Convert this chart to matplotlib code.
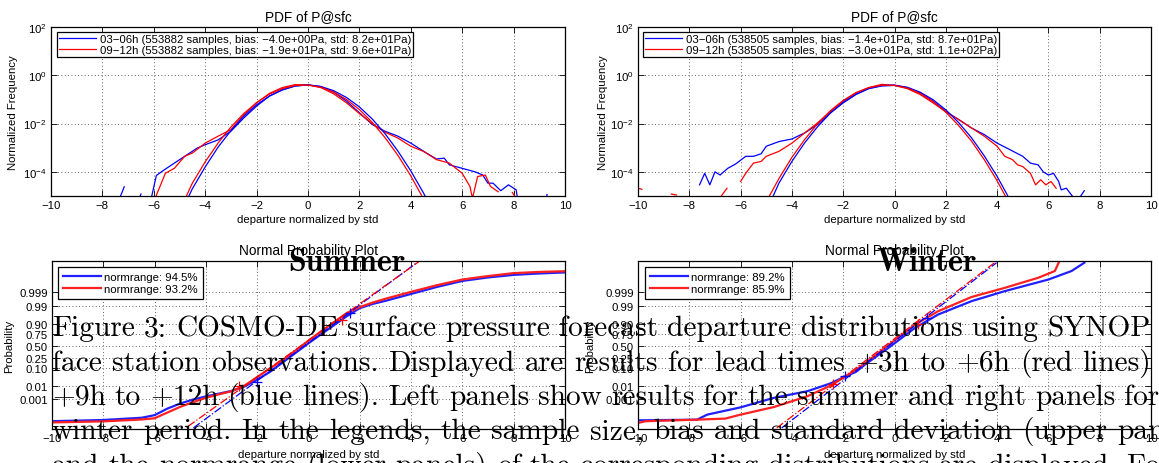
import numpy as np
import matplotlib
matplotlib.use("Agg")
import matplotlib.pyplot as plt
from matplotlib.ticker import NullLocator
from statistics import NormalDist

plt.rcParams["font.family"] = "Liberation Sans"
plt.rcParams["font.size"] = 8.2
plt.rcParams["mathtext.default"] = "regular"

W, H = 1159, 464

# ---------------- PDF data (summer) ----------------
sum_blue_x = [-7.33, -7.15, np.nan, -6.55, -6.5, np.nan,
              -6.1, -5.9, -5.6, -5.2, -4.8, -4.5, -4.3, -4.0, -3.5, -3.0, -2.5, -2.0, -1.5, -1.0, -0.5,
              0.0, 0.5, 1.0, 1.5, 2.0, 2.5, 3.0, 3.5, 4.0, 4.5, 5.0, 5.3, 5.5, 6.0, 6.5, 6.8, 7.0, 7.2,
              7.5, 7.8, 8.1, 8.15, np.nan, 9.28, 9.3]
sum_blue_y = [8e-6, 2.4e-5, np.nan, 9e-6, 1.2e-5, np.nan,
              8e-6, 7.1e-5, 1.2e-4, 2.3e-4, 4.4e-4, 7.1e-4, 9.8e-4, 1.33e-3, 2.1e-3, 4.8e-3, 0.017, 0.053,
              0.138, 0.245, 0.36, 0.40, 0.34, 0.20, 0.085, 0.028, 9.1e-3, 4.8e-3, 3.0e-3, 1.55e-3, 7.1e-4,
              3.4e-4, 3.7e-4, 1.95e-4, 1.4e-4, 1.0e-4, 7.4e-5, 3.4e-5, 3.4e-5, 1.66e-5, 2.9e-5, 1.8e-5,
              8e-6, np.nan, 9e-6, 1.15e-5]
sum_red_x = [-5.95, -5.55, -5.2, -4.8, -4.5, -4.0, -3.5, -3.0, -2.5, -2.0, -1.5, -1.0, -0.5, 0.0, 0.5,
             1.0, 1.5, 2.0, 2.5, 3.0, 3.5, 4.0, 4.5, 5.0, 5.5, 6.0, 6.3, 6.4, 6.6, 6.9, 7.1, 7.4,
             np.nan, 7.95, 8.1]
sum_red_y = [8e-6, 8.7e-5, 1.4e-4, 4.4e-4, 6e-4, 1.55e-3, 3.0e-3, 5.6e-3, 0.023, 0.072, 0.178, 0.31,
             0.41, 0.40, 0.31, 0.17, 0.072, 0.026, 0.010, 4.4e-3, 2.5e-3, 1.15e-3, 7e-4, 3.2e-4, 2.3e-4,
             8.7e-5, 2.5e-5, 8e-6, 6.4e-5, 7.4e-5, 2.5e-5, 1.5e-5, np.nan, 1.4e-5, 8e-6]

# normal fits
fit_x = [-5.0, -4.5, -4.0, -3.5, -3.0, -2.5, -2.0, -1.5, -1.0, -0.5, 0.0, 0.5, 1.0, 1.5, 2.0, 2.5,
         3.0, 3.5, 4.0, 4.5, 5.0]
sum_blue_fit = [1.5e-6, 2.0e-5, 1.6e-4, 1.05e-3, 5.1e-3, 0.020, 0.060, 0.138, 0.254, 0.361, 0.398,
                0.343, 0.230, 0.120, 0.049, 0.0155, 3.8e-3, 7.2e-4, 1.1e-4, 1.3e-5, 1.2e-6]
sum_red_fit = [2.4e-6, 3.4e-5, 2.6e-4, 1.55e-3, 7.2e-3, 0.026, 0.074, 0.165, 0.282, 0.378, 0.394,
               0.319, 0.201, 0.099, 0.038, 0.0112, 2.6e-3, 4.8e-4, 6.8e-5, 7.4e-6, 6e-7]

# ---------------- PDF data (winter) ----------------
win_blue_x = [-7.6, -7.4, -7.2, -7.0, -6.8, -6.5, -6.2, -5.8, -5.5, -5.2, -5.0, -4.5, -4.0, -3.5, -3.0,
              -2.5, -2.0, -1.5, -1.0, -0.5, 0.0, 0.5, 1.0, 1.5, 2.0, 2.5, 3.0, 3.5, 4.0, 4.5, 5.0, 5.3,
              5.6, 5.8, 6.0, 6.2, 6.4, 6.5, 6.7, 7.0, np.nan, 7.2, 7.4]
win_blue_y = [2.9e-5, 8.7e-5, 2.9e-5, 1.0e-4, 7.4e-5, 1.4e-4, 2.1e-4, 4.4e-4, 4.4e-4, 5.6e-4, 1.15e-3,
              1.8e-3, 2.3e-3, 4.1e-3, 9.1e-3, 0.028, 0.072, 0.16, 0.28, 0.36, 0.38, 0.31, 0.19, 0.085,
              0.032, 0.0147, 6.6e-3, 3.5e-3, 1.55e-3, 8.3e-4, 4.4e-4, 2.3e-4, 1.95e-4, 1.0e-4, 7.4e-5,
              8.7e-5, 4e-5, 1.8e-5, 2.1e-5, 8e-6, np.nan, 8e-6, 1.66e-5]
win_red_x = [-10.0, -9.85, np.nan, -8.7, -8.5, np.nan, -6.82, -6.53, np.nan,
             -6.0, -5.8, -5.5, -5.2, -5.0, -4.5, -4.0, -3.5, -3.0, -2.5, -2.0, -1.5, -1.0, -0.5, 0.0,
             0.5, 1.0, 1.5, 2.0, 2.5, 3.0, 3.5, 4.0, 4.3, 4.6, 4.8, 5.0, 5.3, 5.5, 5.7, 5.9, 6.1, 6.3]
win_red_y = [2.1e-5, 1.9e-5, np.nan, 1.2e-5, 1.1e-5, np.nan, 8e-6, 2.1e-5, np.nan,
             4e-5, 8.7e-5, 2.3e-4, 2.7e-4, 4.4e-4, 7.1e-4, 1.55e-3, 4.1e-3, 0.0107, 0.032, 0.085,
             0.19, 0.31, 0.42, 0.38, 0.28, 0.16, 0.072, 0.031, 0.0147, 6.6e-3, 3.0e-3, 1.15e-3,
             4.4e-4, 3.2e-4, 1.95e-4, 1.66e-4, 8.7e-5, 2.9e-5, 4.7e-5, 2.9e-5, 4e-5, 2.1e-5]
win_blue_fit = [2.3e-6, 3.5e-5, 2.7e-4, 1.6e-3, 7.4e-3, 0.027, 0.076, 0.167, 0.285, 0.379, 0.393,
                0.317, 0.199, 0.098, 0.037, 0.011, 2.6e-3, 4.6e-4, 6.5e-5, 7e-6, 6e-7]
win_red_fit = [5.8e-6, 5.4e-5, 4.0e-4, 2.2e-3, 9.8e-3, 0.034, 0.091, 0.19, 0.308, 0.389, 0.384,
               0.294, 0.176, 0.082, 0.0295, 8.3e-3, 1.9e-3, 3.2e-4, 4.3e-5, 4.4e-6, 3e-7]

# ---------------- Normal probability plot data (x, normal quantile) ----------------
np_sum_blue_x = [-10, -8, -6.5, -6, -5.5, -5, -4.5, -4, -3.5, -3, -2.5, -2, -1.5, -1, -0.5, 0, 0.5, 1,
                 1.5, 2, 2.5, 3, 3.5, 4, 5, 6, 7, 8, 9, 10]
np_sum_blue_z = [-4.35, -4.28, -4.15, -4.0, -3.62, -3.33, -3.1, -2.92, -2.76, -2.6, -2.35, -1.95,
                 -1.5, -0.95, -0.4, 0.15, 0.68, 1.2, 1.72, 2.18, 2.42, 2.6, 2.8, 3.0, 3.4, 3.75,
                 3.95, 4.1, 4.18, 4.24]
np_sum_red_x = np_sum_blue_x
np_sum_red_z = [-4.42, -4.36, -4.25, -4.18, -3.85, -3.52, -3.25, -3.0, -2.8, -2.62, -2.3, -1.8,
                -1.3, -0.82, -0.26, 0.3, 0.85, 1.38, 1.9, 2.24, 2.5, 2.72, 2.92, 3.12, 3.5, 3.83,
                4.03, 4.2, 4.27, 4.31]
np_sum_blue_ref = ([-4.49, 4.22], [-4.74, 4.8])
np_sum_red_ref = ([-4.69, 4.3], [-4.64, 4.86])
np_sum_blue_plus = ([-2.02, 1.62], [-2.08, 1.9])
np_sum_red_plus = ([-2.7, 1.29], [-2.33, 1.5])

np_win_blue_x = [-10, -7.7, -7.3, -6, -4.7, -3.4, -2.5, -1.9, -1.5, -1.15, -0.24, 0.8, 1.7, 3.0, 4.3,
                 6.0, 6.9, 7.4]
np_win_blue_z = [-4.3, -4.26, -3.97, -3.55, -3.0, -2.62, -2.17, -1.75, -1.5, -1.08, -0.12, 1.04,
                 1.81, 2.58, 3.16, 3.83, 4.32, 4.8]
np_win_red_x = [-10, -9.7, -7.7, -6.6, -6.0, -4.7, -3.4, -2.5, -1.9, -1.5, -1.15, -0.24, 0.8, 1.7,
                3.0, 4.3, 5.6, 6.25, 6.4]
np_win_red_z = [-4.45, -4.35, -4.26, -4.2, -3.97, -3.53, -2.91, -2.3, -1.75, -1.37, -1.0, 0.04,
                1.23, 2.0, 2.82, 3.35, 3.93, 4.32, 4.8]
np_win_blue_ref = ([-4.4, 3.98], [-4.74, 4.8])
np_win_red_ref = ([-4.59, 3.9], [-4.74, 4.8])
np_win_blue_plus = ([-1.93, 1.25], [-1.75, 1.62])
np_win_red_plus = ([-2.39, 0.9], [-2.2, 1.25])

prob_ticks = [0.001, 0.01, 0.10, 0.25, 0.50, 0.75, 0.90, 0.99, 0.999]
prob_labels = ["0.001", "0.01", "0.10", "0.25", "0.50", "0.75", "0.90", "0.99", "0.999"]

pdf_labels_sum = ["03\u221206h (553882 samples, bias: \u22124.0e+00Pa, std: 8.2e+01Pa)",
                  "09\u221212h (553882 samples, bias: \u22121.9e+01Pa, std: 9.6e+01Pa)"]
pdf_labels_win = ["03\u221206h (538505 samples, bias: \u22121.4e+01Pa, std: 8.7e+01Pa)",
                  "09\u221212h (538505 samples, bias: \u22123.0e+01Pa, std: 1.1e+02Pa)"]
np_labels_sum = ["normrange: 94.5%", "normrange: 93.2%"]
np_labels_win = ["normrange: 89.2%", "normrange: 85.9%"]

caption = [
    "Figure 3: COSMO-DE surface pressure forecast departure distributions using SYNOP sur-",
    "face station observations. Displayed are results for lead times +3h to +6h (red lines) and",
    "+9h to +12h (blue lines). Left panels show results for the summer and right panels for the",
    "winter period. In the legends, the sample size, bias and standard deviation (upper panels)",
    "and the normrange (lower panels) of the corresponding distributions are displayed. For",
]
caption_justified = [True, True, True, True, False]


def box(x0, y0, x1, y1):
    return [x0 / W, 1 - y1 / H, (x1 - x0) / W, (y1 - y0) / H]


def common(ax):
    ax.set_xlim(-10, 10)
    ax.set_xticks(range(-10, 11, 2))
    ax.tick_params(direction="in", length=4, width=0.6, top=True, right=True, pad=3)
    ax.grid(True, ls=(0, (1, 3)), color="#333333", lw=0.6)
    for s in ax.spines.values():
        s.set_linewidth(0.9)
    ax.set_xlabel("departure normalized by std")
    ax.xaxis.label.set_va("center")
    ax.yaxis.label.set_va("center")


fig = plt.figure(figsize=(W / 100, H / 100), dpi=100)

pdf_sets = [
    (box(51, 28, 565, 197), sum_blue_x, sum_blue_y, sum_red_x, sum_red_y, sum_blue_fit, sum_red_fit,
     pdf_labels_sum, 57, -38),
    (box(638, 28, 1151, 197), win_blue_x, win_blue_y, win_red_x, win_red_y, win_blue_fit, win_red_fit,
     pdf_labels_win, 643, -35),
]
for pos, bx, by, rx, ry, bf, rf, labs, legx, yl in pdf_sets:
    ax = fig.add_axes(pos)
    lb, = ax.plot(bx, by, color="blue", lw=0.9)
    lr, = ax.plot(rx, ry, color="red", lw=0.9)
    ax.plot(fit_x, bf, color="blue", lw=0.9)
    ax.plot(fit_x, rf, color="red", lw=0.9)
    ax.set_yscale("log")
    ax.set_ylim(1e-5, 1e2)
    ax.set_yticks([1e-4, 1e-2, 1e0, 1e2])
    ax.yaxis.set_minor_locator(NullLocator())
    common(ax)
    ax.set_title("PDF of P@sfc", pad=5)
    ax.set_ylabel("Normalized Frequency")
    ax.xaxis.set_label_coords(0.5, -23 / 169)
    ax.yaxis.set_label_coords(yl / 514, 0.5)
    leg = ax.legend([lb, lr], labs, loc="upper left", bbox_to_anchor=(legx / W, 1 - 33 / H),
                    bbox_transform=fig.transFigure, borderaxespad=0, borderpad=0.15,
                    labelspacing=0.1, handlelength=3.3, handletextpad=0.3, fancybox=False,
                    framealpha=1, edgecolor="black")
    leg.get_frame().set_linewidth(0.9)

zt = [NormalDist().inv_cdf(p) for p in prob_ticks]
np_sets = [
    (box(52, 262, 565, 430), np_sum_blue_x, np_sum_blue_z, np_sum_red_x, np_sum_red_z,
     np_sum_blue_ref, np_sum_red_ref, np_sum_blue_plus, np_sum_red_plus, np_labels_sum, 58, -43),
    (box(638, 262, 1151, 430), np_win_blue_x, np_win_blue_z, np_win_red_x, np_win_red_z,
     np_win_blue_ref, np_win_red_ref, np_win_blue_plus, np_win_red_plus, np_labels_win, 645, -48),
]
for pos, bx, bz, rx, rz, bref, rref, bplus, rplus, labs, legx, yl in np_sets:
    ax = fig.add_axes(pos)
    lb, = ax.plot(bx, bz, color="#2020ff", lw=1.6)
    lr, = ax.plot(rx, rz, color="#ff2020", lw=1.6)
    ax.plot(*bref, color="blue", lw=0.9, ls="-.")
    ax.plot(*rref, color="red", lw=0.9, ls="-.")
    ax.plot(*bplus, "+", color="blue", ms=7, mew=0.9)
    ax.plot(*rplus, "+", color="red", ms=7, mew=0.9)
    ax.set_ylim(-4.8, 4.9)
    ax.set_yticks(zt)
    ax.set_yticklabels(prob_labels)
    common(ax)
    ax.set_title("Normal Probability Plot", pad=5)
    ax.set_ylabel("Probability")
    ax.xaxis.set_label_coords(0.5, -25 / 168)
    ax.yaxis.set_label_coords(yl / 513, 0.5)
    leg = ax.legend([lb, lr], labs, loc="upper left", bbox_to_anchor=(legx / W, 1 - 268 / H),
                    bbox_transform=fig.transFigure, borderaxespad=0, borderpad=0.45,
                    labelspacing=0.15, handlelength=3.3, handletextpad=0.3, fancybox=False,
                    framealpha=1, edgecolor="black")
    leg.get_frame().set_linewidth(0.9)

# overlaid document text
fig.text(347 / W, 1 - 271 / H, "Summer", family="cmb10", fontsize=23, ha="center", va="baseline")
fig.text(927 / W, 1 - 271 / H, "Winter", family="cmb10", fontsize=23, ha="center", va="baseline")

# caption, justified word by word between x=52 and x=1209 px (the right part is off the page)
renderer = fig.canvas.get_renderer()
x_left, x_right = 52, 1209
for i, line in enumerate(caption):
    y = 1 - (336.3 + 34.4 * i) / H
    words = line.split(" ")
    texts = [fig.text(0, y, w, family="cmr10", fontsize=21.2, ha="left", va="baseline")
             for w in words]
    widths = [t.get_window_extent(renderer).width for t in texts]
    if caption_justified[i]:
        gap = (x_right - x_left - sum(widths)) / (len(words) - 1)
    else:
        gap = 9.5
    x = x_left
    for t, wd in zip(texts, widths):
        t.set_x(x / W)
        x += wd + gap

fig.savefig("out.png", dpi=100)
